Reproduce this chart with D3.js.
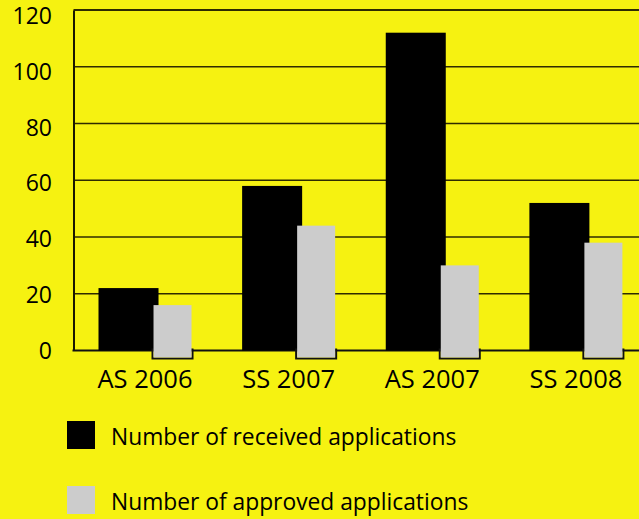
<!DOCTYPE html>
<html><head><meta charset="utf-8">
<script src="https://cdn.jsdelivr.net/npm/d3@7"></script>
<style>
html,body{margin:0;padding:0;background:#f6f211;}
svg{display:block;}
text{font-family:"Open Sans",sans-serif;fill:#000;}
</style></head>
<body>
<script>
const categories = ["AS 2006", "SS 2007", "AS 2007", "SS 2008"];
const received = [22, 58, 112, 52];
const approved = [16, 44, 30, 38];
const yTicks = [0, 20, 40, 60, 80, 100, 120];
const seriesNames = ["Number of received applications", "Number of approved applications"];
const seriesColors = ["#000000", "#cccccc"];

const W = 639, H = 519;
const svg = d3.select("body").append("svg").attr("width", W).attr("height", H);
svg.append("rect").attr("width", W).attr("height", H).attr("fill", "#f6f211");

const left = 73.5, y0 = 350.5, yTop = 10;
const x = d3.scaleBand().domain(categories).range([left, left + 574.5]).padding(0);
const y = d3.scaleLinear().domain([0, 120]).range([y0, yTop]);
const yLab = d3.scaleLinear().domain([0, 120]).range([349.5, 15]);
const bw = x.bandwidth();

// gridlines
const grid = svg.append("g");
grid.selectAll("line").data(yTicks.filter(d => d > 0)).join("line")
  .attr("x1", left).attr("x2", W + 5)
  .attr("y1", d => y(d)).attr("y2", d => y(d))
  .attr("stroke", "#2e2b00").attr("stroke-width", d => d === 120 ? 2 : 1.6);

// y axis line
const yAxis = svg.append("g").attr("transform", `translate(${left},0)`)
  .call(d3.axisLeft(y).tickValues([]).tickSize(0));
yAxis.select(".domain").attr("stroke", "#1a1800").attr("stroke-width", 2);

// y tick labels
svg.append("g").selectAll("text").data(yTicks).join("text")
  .attr("x", 52).attr("y", d => yLab(d))
  .attr("text-anchor", "end").attr("dominant-baseline", "central")
  .style("font-size", "23px").text(d => d);

// baseline
svg.append("line").attr("x1", left - 1).attr("x2", W + 5).attr("y1", y0).attr("y2", y0)
  .attr("stroke", "#111").attr("stroke-width", 2);

// received bars
const offR = bw * 25 / 143.6, wR = bw * 60 / 143.6;
const offA = bw * 80 / 143.6, wA = bw * 38 / 143.6;
const drop = 7;

svg.append("g").selectAll("rect").data(categories).join("rect")
  .attr("x", (d) => x(d) + offR).attr("width", wR)
  .attr("y", (d, i) => y(received[i])).attr("height", (d, i) => y0 - y(received[i]))
  .attr("fill", seriesColors[0]);

// approved bars: outline below baseline then fill
const ap = svg.append("g");
ap.selectAll("rect.outline").data(categories).join("rect").attr("class", "outline")
  .attr("x", d => x(d) + offA - 1).attr("width", wA + 2)
  .attr("y", y0 - 1).attr("height", drop + 2)
  .attr("fill", "none").attr("stroke", "#111").attr("stroke-width", 2);
ap.selectAll("rect.fill").data(categories).join("rect").attr("class", "fill")
  .attr("x", d => x(d) + offA).attr("width", wA)
  .attr("y", (d, i) => y(approved[i])).attr("height", (d, i) => y0 - y(approved[i]) + drop)
  .attr("fill", seriesColors[1]);

// x labels
svg.append("g").selectAll("text").data(categories).join("text")
  .attr("x", d => x(d) + offR + (offA + wA - offR) / 2)
  .attr("y", 388)
  .attr("text-anchor", "middle")
  .style("font-size", "25.5px")
  .text(d => d);

// legend
const lg = svg.append("g");
const legY = [421, 486];
seriesNames.forEach((name, i) => {
  lg.append("rect").attr("x", 67).attr("y", legY[i]).attr("width", 28).attr("height", 28)
    .attr("fill", seriesColors[i]);
  lg.append("text").attr("x", 111).attr("y", legY[i] + 23.5)
    .style("font-size", "22.8px").text(name);
});
</script>
</body></html>
